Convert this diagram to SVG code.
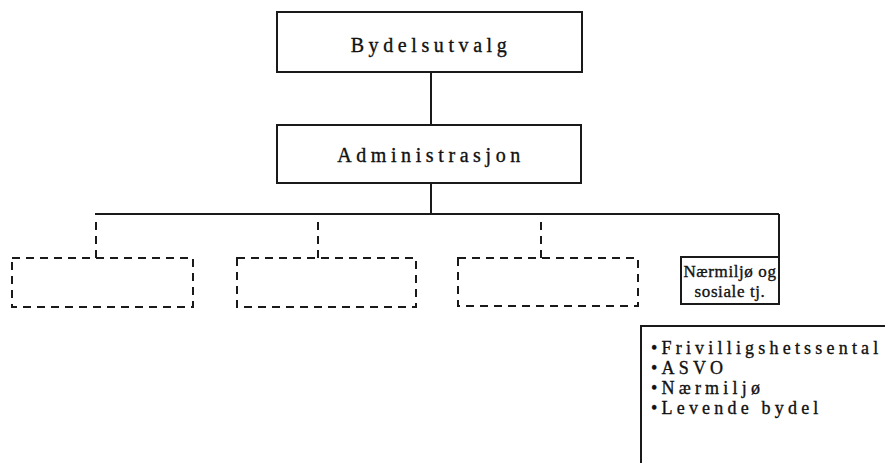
<svg xmlns="http://www.w3.org/2000/svg" width="885" height="463" viewBox="0 0 885 463">
  <style>
    .box { fill: #ffffff; stroke: #1a1a1a; stroke-width: 2; }
    .dbox { fill: none; stroke: #1a1a1a; stroke-width: 2; stroke-dasharray: 8 6; }
    .line { fill: none; stroke: #1a1a1a; stroke-width: 2; }
    .dline { fill: none; stroke: #1a1a1a; stroke-width: 2; stroke-dasharray: 8 6; }
    .lbl { font-family: "Liberation Serif", "Times New Roman", serif; fill: #111111; stroke: #111111; stroke-width: 0.35; }
    .big { font-size: 20px; letter-spacing: 4.6px; }
    .mid { font-size: 17px; letter-spacing: 0.6px; }
    .list { font-size: 18px; letter-spacing: 4.2px; }
  </style>
  <rect width="885" height="463" fill="#ffffff"/>

  <!-- connectors -->
  <g id="connectors">
    <line class="line" x1="431" y1="72" x2="431" y2="125"/>
    <line class="line" x1="431" y1="183" x2="431" y2="214"/>
    <line class="line" x1="95" y1="214" x2="779" y2="214"/>
    <line class="line" x1="779" y1="214" x2="779" y2="257"/>
    <line class="dline" x1="96" y1="222" x2="96" y2="258"/>
    <line class="dline" x1="318" y1="222" x2="318" y2="258"/>
    <line class="dline" x1="541" y1="222" x2="541" y2="258"/>
  </g>

  <!-- top level -->
  <g id="bydelsutvalg">
    <rect class="box" x="277" y="12" width="305" height="60"/>
    <text class="lbl big" x="431" y="52" text-anchor="middle">Bydelsutvalg</text>
  </g>

  <g id="administrasjon">
    <rect class="box" x="277" y="125" width="304" height="58"/>
    <text class="lbl big" x="431" y="162" text-anchor="middle">Administrasjon</text>
  </g>

  <!-- unnamed units -->
  <g id="enhet-1">
    <rect class="dbox" x="12" y="258" width="181" height="49"/>
  </g>
  <g id="enhet-2">
    <rect class="dbox" x="237" y="258" width="179" height="49"/>
  </g>
  <g id="enhet-3">
    <rect class="dbox" x="458" y="258" width="180" height="48"/>
  </g>

  <g id="naermiljo">
    <rect class="box" x="681" y="257" width="98" height="47"/>
    <text class="lbl mid" x="730" y="277" text-anchor="middle">Nærmiljø og</text>
    <text class="lbl mid" x="730" y="297" text-anchor="middle">sosiale tj.</text>
  </g>

  <!-- task list -->
  <g id="oppgaver">
    <rect class="box" x="641" y="326" width="260" height="150"/>
    <text class="lbl list" x="651" y="354">•Frivilligshetssental</text>
    <text class="lbl list" x="651" y="374">•ASVO</text>
    <text class="lbl list" x="651" y="394">•Nærmiljø</text>
    <text class="lbl list" x="651" y="414">•Levende bydel</text>
  </g>
</svg>
